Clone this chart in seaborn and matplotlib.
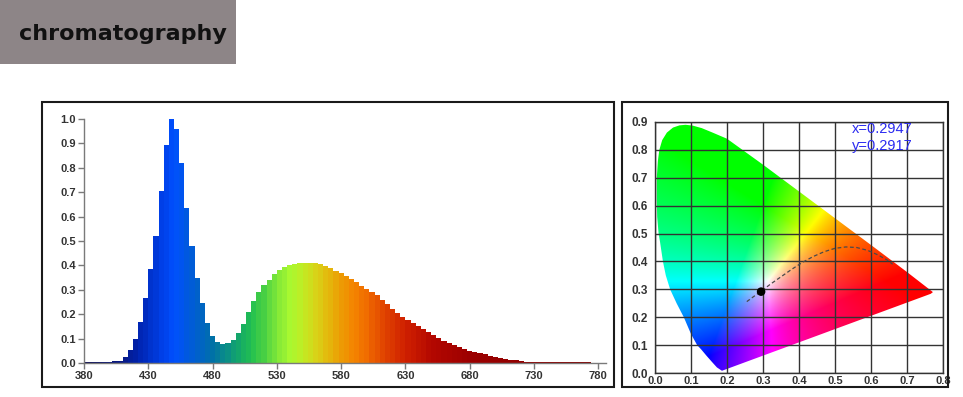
import numpy as np
import pandas as pd
import matplotlib
matplotlib.use("Agg")
import matplotlib.pyplot as plt
import seaborn as sns
from matplotlib.colors import LinearSegmentedColormap
from matplotlib.patches import Rectangle, Polygon

# ── spectrum (relative intensity, 4 nm steps) ──
wavelength = np.arange(380, 781, 4)
intensity = [
    0.004, 0.004, 0.004, 0.004, 0.005, 0.005, 0.007, 0.010, 0.024, 0.052,
    0.098, 0.170, 0.265, 0.385, 0.520, 0.705, 0.895, 1.000, 0.960, 0.820,
    0.635, 0.480, 0.350, 0.245, 0.165, 0.110, 0.088, 0.079, 0.082, 0.095,
    0.122, 0.160, 0.210, 0.255, 0.290, 0.318, 0.342, 0.365, 0.382, 0.394,
    0.401, 0.405, 0.408, 0.410, 0.410, 0.409, 0.405, 0.399, 0.390, 0.379,
    0.368, 0.356, 0.343, 0.331, 0.317, 0.303, 0.290, 0.277, 0.260, 0.241,
    0.222, 0.205, 0.190, 0.176, 0.163, 0.151, 0.139, 0.126, 0.113, 0.101,
    0.091, 0.082, 0.074, 0.065, 0.056, 0.050, 0.045, 0.040, 0.035, 0.030,
    0.025, 0.021, 0.017, 0.013, 0.011, 0.008, 0.006, 0.005, 0.004, 0.004,
    0.004, 0.004, 0.004, 0.003, 0.003, 0.003, 0.003, 0.003, 0.003, 0.002,
    0.002,
]
spec_xticks = [380, 430, 480, 530, 580, 630, 680, 730, 780]
spec_yticks = [0.0, 0.1, 0.2, 0.3, 0.4, 0.5, 0.6, 0.7, 0.8, 0.9, 1.0]

# ── chromaticity diagram (boundary as drawn in the picture) ──
locus_x = [0.186, 0.172, 0.158, 0.143, 0.128, 0.117, 0.100, 0.080, 0.060, 0.042,
           0.030, 0.022, 0.014, 0.010, 0.006, 0.005, 0.005, 0.008, 0.012, 0.020,
           0.033, 0.050, 0.068, 0.085, 0.105, 0.130, 0.160, 0.200, 0.300, 0.400,
           0.500, 0.600, 0.700, 0.755, 0.772, 0.766]
locus_y = [0.008, 0.020, 0.040, 0.062, 0.085, 0.100, 0.140, 0.200, 0.250, 0.300,
           0.350, 0.400, 0.470, 0.500, 0.560, 0.620, 0.700, 0.760, 0.800, 0.835,
           0.862, 0.880, 0.888, 0.890, 0.887, 0.878, 0.862, 0.840, 0.747, 0.651,
           0.555, 0.459, 0.362, 0.307, 0.290, 0.284]
cct_x = [0.255, 0.275, 0.295, 0.320, 0.350, 0.380, 0.410, 0.440, 0.470, 0.500,
         0.530, 0.560, 0.590, 0.620, 0.645, 0.660]
cct_y = [0.256, 0.275, 0.293, 0.318, 0.345, 0.372, 0.397, 0.418, 0.435, 0.447,
         0.452, 0.450, 0.440, 0.423, 0.405, 0.390]
pt_x, pt_y = 0.2947, 0.2917
cie_xticks = [0.0, 0.1, 0.2, 0.3, 0.4, 0.5, 0.6, 0.7, 0.8]
cie_yticks = [0.0, 0.1, 0.2, 0.3, 0.4, 0.5, 0.6, 0.7, 0.8, 0.9]

sns.set_theme(style="ticks")
plt.rcParams["font.family"] = ["Liberation Sans", "DejaVu Sans"]

W, H = 963, 397
fig = plt.figure(figsize=(W / 100, H / 100), dpi=100)


def fbox(x0, y0, x1, y1):
    """pixel box (top-left origin) -> figure fraction [l, b, w, h]"""
    return [x0 / W, 1 - y1 / H, (x1 - x0) / W, (y1 - y0) / H]


# ── title tag ──
l, b, w, h = fbox(0, 0, 236, 64)
fig.patches.append(Rectangle((l, b), w, h, transform=fig.transFigure,
                             fc="#8d8587", ec="none"))
fig.text(123 / W, 1 - 34 / H, "chromatography", ha="center", va="center",
         fontsize=16, fontweight="bold", color="#111111", family="DejaVu Sans")

# ── outer frames ──
for box in [(42, 102, 614, 387), (622, 102, 948, 387)]:
    l, b, w, h = fbox(*box)
    fig.patches.append(Rectangle((l, b), w, h, transform=fig.transFigure,
                                 fill=False, lw=1.5, ec="#1a1a1a"))

# ── left: spectrum ──
spec_cmap = LinearSegmentedColormap.from_list("spec", [
    (0.000, "#0c0c50"), (0.075, "#081a88"), (0.100, "#0020a8"),
    (0.125, "#0030c8"), (0.150, "#0040e8"), (0.175, "#0050ff"),
    (0.200, "#0058e0"), (0.225, "#0064c4"), (0.250, "#0070a8"),
    (0.275, "#0a8c88"), (0.300, "#14a868"), (0.325, "#22c050"),
    (0.350, "#48d044"), (0.375, "#80e838"), (0.400, "#a8f830"),
    (0.425, "#c0ec24"), (0.450, "#d8d418"), (0.475, "#e4b80c"),
    (0.500, "#ec9c04"), (0.525, "#f48400"), (0.550, "#f06c00"),
    (0.575, "#e44c00"), (0.625, "#d02000"), (0.675, "#b40800"),
    (0.750, "#9c0000"), (1.000, "#800000"),
])
bar_colors = {wl: spec_cmap((wl - 380) / 400) for wl in wavelength}
df = pd.DataFrame({"wavelength": wavelength, "intensity": intensity})

ax1 = fig.add_axes(fbox(84, 119, 606, 363))
sns.barplot(data=df, x="wavelength", y="intensity", hue="wavelength",
            palette=bar_colors, native_scale=True, width=1.0, dodge=False,
            saturation=1, errorbar=None, linewidth=0, legend=False, ax=ax1)
ax1.set_xlim(380, 786)
ax1.set_ylim(0, 1.0)
ax1.set_xticks(spec_xticks)
ax1.set_xticklabels([str(t) for t in spec_xticks])
ax1.set_yticks(spec_yticks)
ax1.set_yticklabels([f"{t:.1f}" for t in spec_yticks])
ax1.set_xlabel("")
ax1.set_ylabel("")
sns.despine(ax=ax1)
for side in ["left", "bottom"]:
    ax1.spines[side].set_color("#7a7a7a")
    ax1.spines[side].set_linewidth(1.0)
ax1.tick_params(length=4, width=1, color="#7a7a7a", pad=2,
                labelsize=8, labelcolor="#333333")
for lab in ax1.get_xticklabels() + ax1.get_yticklabels():
    lab.set_fontweight("bold")

# ── right: CIE chromaticity ──
ax2 = fig.add_axes(fbox(655, 122, 943, 373))
gx = np.linspace(0, 0.8, 480)
gy = np.linspace(0, 0.9, 540)
X, Y = np.meshgrid(gx, gy)
Z = 1 - X - Y
M = np.array([[3.2406, -1.5372, -0.4986],
              [-0.9689, 1.8758, 0.0415],
              [0.0557, -0.2040, 1.0570]])
rgb = np.einsum("ij,jkl->kli", M, np.stack([X, Y, Z]))
rgb = np.clip(rgb, 0, None)
rgb = rgb / np.maximum(rgb.max(axis=2, keepdims=True), 1e-6)
rgb = np.clip(rgb, 0, 1) ** 0.8

im = ax2.imshow(rgb, origin="lower", extent=(0, 0.8, 0, 0.9), aspect="auto",
                interpolation="bilinear", zorder=0)
gamut = Polygon(np.column_stack([locus_x, locus_y]), closed=True,
                transform=ax2.transData, fc="none", ec="none")
ax2.add_patch(gamut)
im.set_clip_path(gamut)

sns.lineplot(x=cct_x, y=cct_y, sort=False, estimator=None, color="#4a4a4a",
             lw=0.9, linestyle=(0, (3, 2)), ax=ax2, zorder=3)
sns.scatterplot(x=[pt_x], y=[pt_y], color="black", s=38, edgecolor="none",
                ax=ax2, zorder=5)
ax2.text(0.547, 0.875, f"x={pt_x:.4f}", color="#2b2bf0", fontsize=10.5,
         va="center", ha="left", zorder=6)
ax2.text(0.547, 0.814, f"y={pt_y:.4f}", color="#2b2bf0", fontsize=10.5,
         va="center", ha="left", zorder=6)

ax2.set_xlim(0, 0.8)
ax2.set_ylim(0, 0.9)
ax2.set_xticks(cie_xticks)
ax2.set_xticklabels([f"{t:.1f}" for t in cie_xticks])
ax2.set_yticks(cie_yticks)
ax2.set_yticklabels([f"{t:.1f}" for t in cie_yticks])
ax2.set_axisbelow(False)
ax2.grid(True, color="#333333", lw=1.0)
for side in ax2.spines:
    ax2.spines[side].set_color("#333333")
    ax2.spines[side].set_linewidth(1.0)
ax2.tick_params(axis="x", length=0, pad=2, labelsize=8, labelcolor="#333333")
ax2.tick_params(axis="y", length=0, pad=5, labelsize=8.5, labelcolor="#333333")
for lab in ax2.get_xticklabels() + ax2.get_yticklabels():
    lab.set_fontweight("bold")

fig.savefig("out.png", dpi=100)
